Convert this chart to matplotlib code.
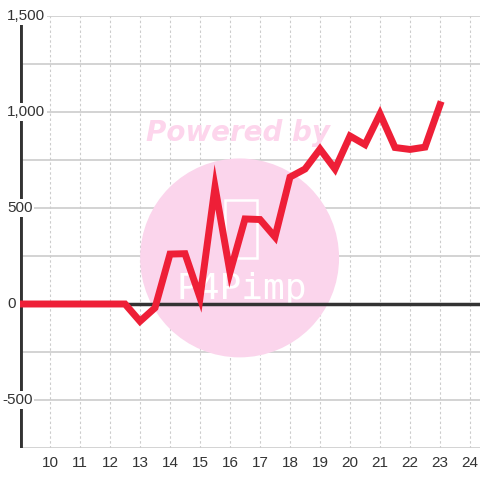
import matplotlib
matplotlib.use("Agg")
import matplotlib.pyplot as plt
from matplotlib.patches import Ellipse, Rectangle

# data
x_vals = [9.0, 9.5, 10.0, 10.5, 11.0, 11.5, 12.0, 12.5, 13.0, 13.5, 14.0, 14.5,
          15.0, 15.5, 16.0, 16.5, 17.0, 17.5, 18.0, 18.5, 19.0, 19.5, 20.0,
          20.5, 21.0, 21.5, 22.0, 22.5, 23.0]
y_vals = [0, 0, 0, 0, 0, 0, 0, 0, -90, -20, 260, 262,
          33, 610, 165, 443, 440, 349, 661, 703, 807, 703, 875,
          830, 990, 815, 805, 817, 1038]
x_ticks = list(range(10, 25))
y_ticks = [-500, 0, 500, 1000, 1500]
y_tick_labels = ["-500", "0", "500", "1,000", "1,500"]
y_grid = [-750, -500, -250, 250, 500, 750, 1000, 1250, 1500]

plt.rcParams['font.family'] = ['Liberation Sans', 'DejaVu Sans']

fig = plt.figure(figsize=(4.8, 4.8), dpi=100)
ax = fig.add_axes([20 / 480, 32 / 480, 460 / 480, 432 / 480])
ax.set_xlim(9.0, 24.333)
ax.set_ylim(-750, 1500)
for s in ax.spines.values():
    s.set_visible(False)
ax.set_xticks([])
ax.set_yticks([])

# gridlines
for g in y_grid:
    ax.axhline(g, color="#c8c8c8", lw=1.1, zorder=1)
for t in x_ticks:
    ax.axvline(t, color="#cccccc", lw=0.8, ls=(0, (2.2, 2.2)), zorder=1)

# watermark
ax.add_patch(Ellipse((16.32, 240), 6.63, 1036, color="#fbd5ec", zorder=2,
                     lw=0))
ax.text(16.25, 890, "Powered by", ha="center", va="center", fontsize=20,
        fontweight="bold", style="italic", color="#fdd5ec", zorder=2,
        family="DejaVu Sans")
ax.text(16.4, 80, "P4Pimp", ha="center", va="center", fontsize=26,
        color="white", zorder=2, family="DejaVu Sans Mono")
ax.add_patch(Rectangle((15.83, 240), 1.07, 302, fill=False, ec="white",
                       lw=1.8, zorder=2))

# axes lines
ax.axhline(0, color="#333333", lw=2.5, zorder=3)
ax.plot([9.0, 9.0], [-750, 1460], color="#333333", lw=3.5, zorder=3,
        solid_capstyle="butt")

ax.plot(x_vals, y_vals, color="#ee1f37", lw=5, zorder=4,
        solid_joinstyle="miter")

for v, lab in zip(y_ticks, y_tick_labels):
    px = 2 if lab.startswith("-") else 7
    ax.text(9.0 + (px - 20) / 30, v, lab, ha="left", va="center",
            fontsize=11, color="#333333", zorder=5,
            bbox=dict(boxstyle="square,pad=0.1", fc="white", ec="none"))
for t in x_ticks:
    ax.text(t, -790, str(t), ha="center", va="top", fontsize=11,
            color="#333333", clip_on=False)

fig.savefig("out.png", dpi=100)
